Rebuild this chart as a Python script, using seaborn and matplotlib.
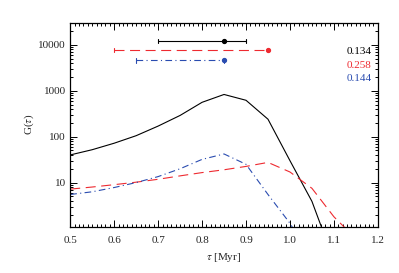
import numpy as np
import pandas as pd
import seaborn as sns
import matplotlib
matplotlib.use("Agg")
import matplotlib.pyplot as plt
from matplotlib.ticker import (MultipleLocator, LogLocator, NullFormatter,
                               FixedLocator, FormatStrFormatter, FixedFormatter)

tau = [0.5, 0.55, 0.6, 0.65, 0.7, 0.75, 0.8, 0.85, 0.9, 0.95, 1.0, 1.05, 1.1, 1.15]
g_black = [40, 52, 72, 105, 170, 290, 560, 830, 620, 240, 30, 3.9, 0.2, 0.05]
g_red = [7.2, 8.0, 9.0, 10.2, 11.8, 14, 16.5, 19, 22.5, 27.5, 17, 7.5, 1.8, 0.6]
g_blue = [5.5, 6.3, 7.8, 10, 13.5, 20, 32, 42, 25, 5.5, 1.3, 0.2, 0.05, 0.02]

# error bar markers at top: (point, left, right, y)
bar_point = [0.85, 0.95, 0.85]
bar_lo = [0.70, 0.60, 0.65]
bar_hi = [0.90, 0.95, 0.85]
bar_y = [12200, 7800, 4560]
labels = ["0.134", "0.258", "0.144"]
colors = ["black", "#ee2a30", "#2a4cb0"]
styles = ["-", (0, (9, 5)), (0, (6, 3, 1, 3))]

sns.set_theme(style="ticks")
plt.rcParams['font.family'] = ['Liberation Serif', 'DejaVu Serif']
plt.rcParams['mathtext.fontset'] = 'stix'

fig, ax = plt.subplots(figsize=(3.99, 2.73), dpi=100)
fig.subplots_adjust(left=0.176, right=0.947, top=0.916, bottom=0.17)

df = pd.DataFrame({"tau": tau, "black": g_black, "red": g_red, "blue": g_blue})
for col, c, ls in zip(["black", "red", "blue"], colors, styles):
    sns.lineplot(data=df, x="tau", y=col, ax=ax, color=c, lw=0.8,
                 linestyle=ls, legend=False)

for p, lo, hi, y, c, ls in zip(bar_point, bar_lo, bar_hi, bar_y, colors, styles):
    ax.plot([lo, hi], [y, y], color=c, lw=0.8, linestyle=ls)
    ax.plot([lo, lo], [y * 0.9, y / 0.9], color=c, lw=0.8)
    ax.plot([hi, hi], [y * 0.9, y / 0.9], color=c, lw=0.8)
    ax.plot([p], [y], 'o', color=c, ms=2.8)

for i, (lab, c, yy) in enumerate(zip(labels, colors, [0.858, 0.789, 0.725])):
    ax.text(0.897, yy, lab, color=c, fontsize=8,
            transform=ax.transAxes, ha='left', va='center')

ax.set_yscale('log')
ax.set_xlim(0.5, 1.2)
ax.set_ylim(1.1, 30000)
ax.xaxis.set_major_locator(FixedLocator([0.5, 0.6, 0.7, 0.8, 0.9, 1.0, 1.1, 1.2]))
ax.xaxis.set_major_formatter(FormatStrFormatter('%.1f'))
ax.xaxis.set_minor_locator(MultipleLocator(0.01))
ax.yaxis.set_major_locator(FixedLocator([10, 100, 1000, 10000]))
ax.yaxis.set_major_formatter(FixedFormatter(["10", "100", "1000", "10000"]))
ax.yaxis.set_minor_locator(LogLocator(base=10, subs=np.arange(2, 10)))
ax.yaxis.set_minor_formatter(NullFormatter())
ax.tick_params(which='both', direction='in', top=True, right=True, labelsize=8,
               color='black', width=0.7)
ax.tick_params(axis='x', which='major', length=5, pad=7)
ax.tick_params(axis='y', which='major', length=5, pad=3)
ax.tick_params(which='minor', length=2.5)
for s in ax.spines.values():
    s.set_linewidth(0.9)
    s.set_color('black')
ax.set_xlabel(r"$\tau$ [Myr]", fontsize=8, labelpad=4)
ax.set_ylabel(r"G($\tau$)", fontsize=8, labelpad=2)

fig.savefig("out.png", dpi=100)
